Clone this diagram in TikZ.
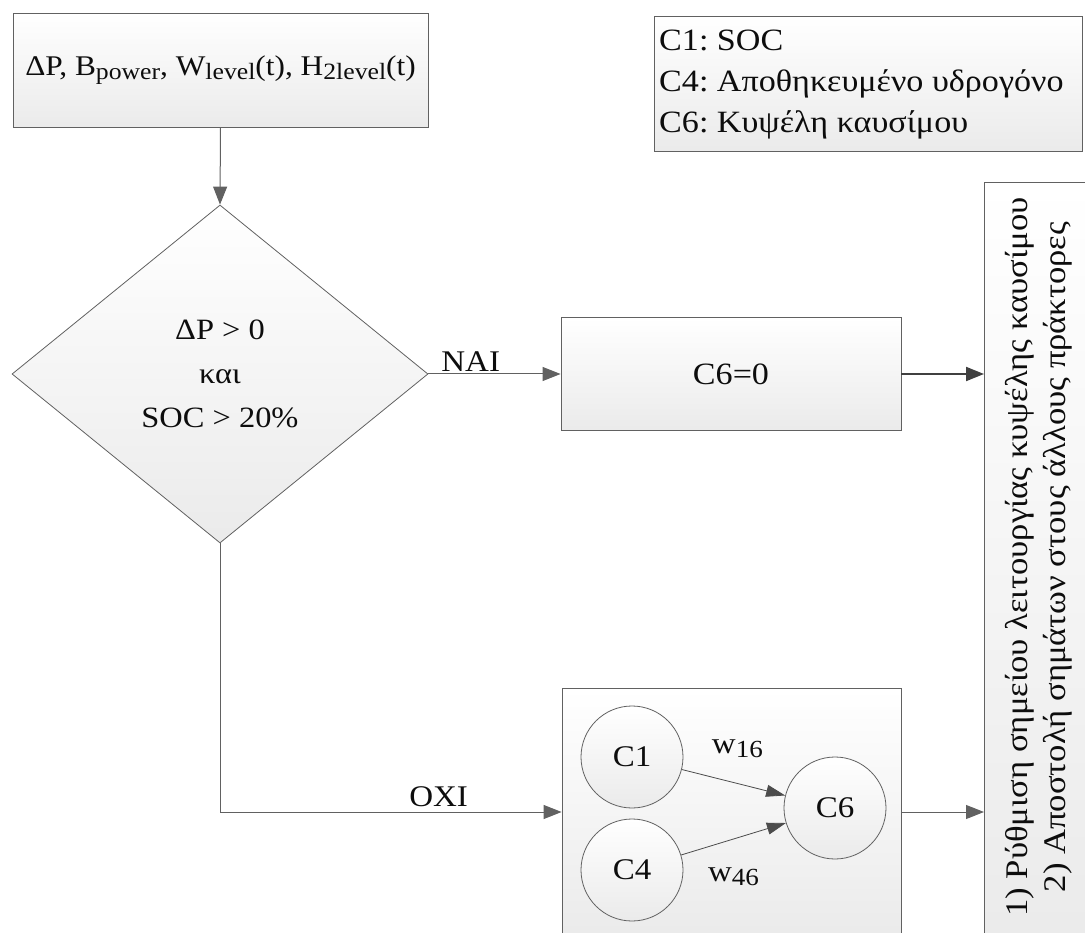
\documentclass[tikz,border=0pt]{standalone}
\usepackage{fontspec}
\setmainfont[FakeStretch=1.1]{Liberation Serif}
\usetikzlibrary{arrows.meta,shapes.geometric}
\newcommand{\lowtxt}[1]{\raisebox{-0.3ex}{\scalebox{0.82}{#1}}}
\newcommand{\fs}[2]{\fontsize{#1}{#2}\selectfont}
\frenchspacing

\begin{document}
\begin{tikzpicture}[x=1pt,y=-1pt,
  every node/.style={font=\fs{28}{40}, text=black!95},
  boxshade/.style={draw=black!62, line width=0.8pt, top color=white, bottom color=black!8, inner sep=0pt},
  link/.style={draw=black!62, line width=1pt, -{Triangle[length=18pt,width=14pt]}},
  thinlink/.style={draw=black!70, line width=0.8pt, -{Triangle[length=19pt,width=12pt]}},
  concept/.style={circle, boxshade, minimum size=102pt, font=\fs{30}{34}},
  lbl/.style={font=\fs{30}{34}, inner sep=2pt},
  ]
\useasboundingbox (0,0) rectangle (1085,933);
\clip (0,0) rectangle (1085,933);

% input data
\node[boxshade, minimum width=415pt, minimum height=114pt, font=\fs{28.5}{34}] (inp) at (220.5,70)
  {ΔP, B\lowtxt{power}, W\lowtxt{level}(t), H\lowtxt{2level}(t)};

% decision
\node[diamond, boxshade, minimum width=416pt, minimum height=338pt, shape aspect=1.23,
      align=center, font=\fs{29.5}{44}] (dec) at (220,374)
  {ΔP > 0\\και\\SOC > 20\%};

% yes branch
\node[boxshade, minimum width=340pt, minimum height=113pt, font=\fs{31}{36}] (zero) at (731,374) {C6=0};

% legend
\node[boxshade, minimum width=428pt, minimum height=135pt] (leg) at (868,83.5) {};
\node[anchor=west, align=left, inner sep=0pt, font=\fs{31}{41}] (legtxt) at (659,85)
  {C1: SOC\\C4: Αποθηκευμένο υδρογόνο\\C6: Κυψέλη καυσίμου};

% output actions
\node[boxshade, minimum width=110pt, minimum height=763pt, anchor=north west] (out) at (984,182) {};
\node[rotate=90, align=center, font=\fs{31.5}{38}] (outtxt) at (1039,557)
  {1) Ρύθμιση σημείου λειτουργίας κυψέλης καυσίμου\\2) Αποστολή σημάτων στους άλλους πράκτορες};

% fuzzy cognitive map block
\node[boxshade, minimum width=339pt, minimum height=248pt] (fcm) at (731.5,812) {};
\node[concept] (c1) at (632,757) {C1};
\node[concept] (c4) at (632,870) {C4};
\node[concept] (c6) at (835,808) {C6};

% connectors
\draw[link] (inp.south) -- (dec.north);
\draw[link] (dec.east) -- node[lbl, above, pos=0.32] {NAI} (zero.west);
\draw[link, draw=black!75, line width=2pt] (zero.east) -- (zero.east -| out.west);
\draw[link] (dec.south) |- node[lbl, above, pos=0.82, yshift=3pt] {ΟΧΙ} (fcm.west);
\draw[link] (fcm.east) -- (fcm.east -| out.west);
\draw[thinlink] (c1) -- node[lbl, above, pos=0.48, yshift=22pt, xshift=6pt] {w\lowtxt{16}} (c6);
\draw[thinlink] (c4) -- node[lbl, below, pos=0.5, yshift=-26pt] {w\lowtxt{46}} (c6);
\end{tikzpicture}
\end{document}
